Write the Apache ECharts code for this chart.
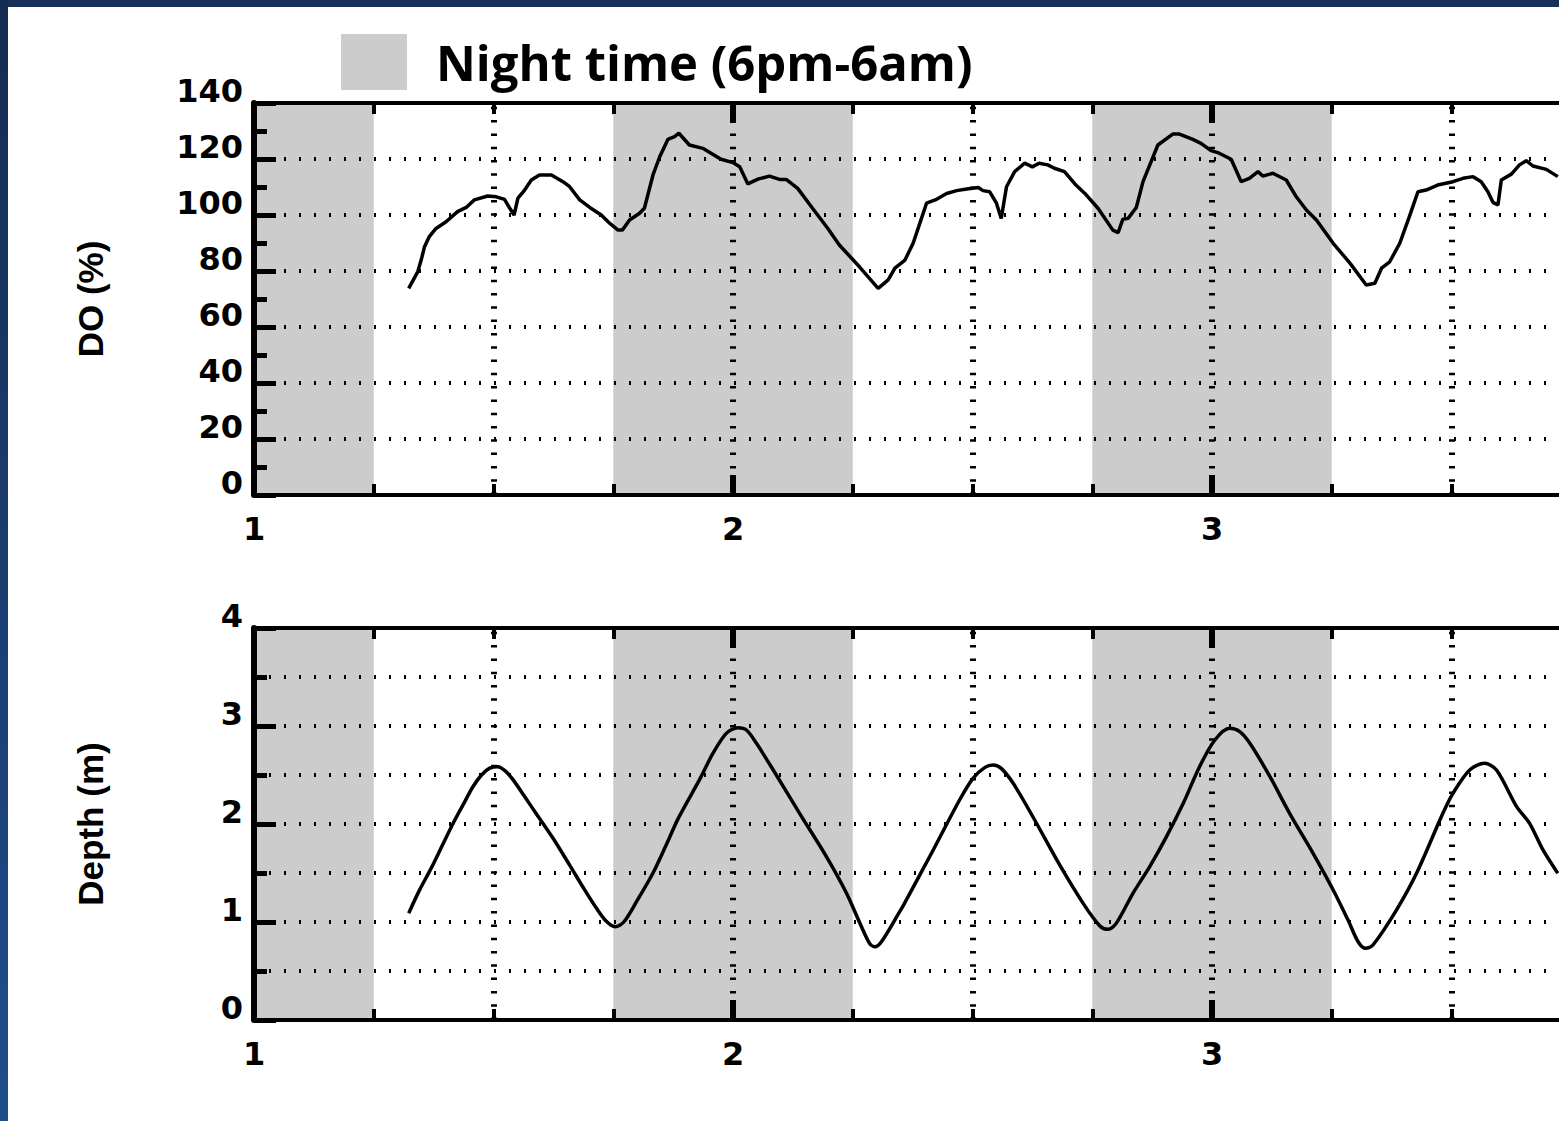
<!DOCTYPE html>
<html>
<head>
<meta charset="utf-8">
<script src="https://cdn.jsdelivr.net/npm/echarts@6/dist/echarts.min.js"></script>
<style>
html, body { margin: 0; padding: 0; background: #ffffff; }
#chart { width: 1559px; height: 1121px; }
</style>
</head>
<body>
<div id="chart"></div>
<script>
// ---- data ----
const doTime = [1.323,1.342,1.349,1.356,1.366,1.380,1.401,1.425,1.443,1.460,1.488,1.506,1.523,1.534,1.543,1.551,1.565,1.579,1.596,1.621,1.645,1.659,1.680,1.701,1.725,1.743,1.760,1.769,1.784,1.805,1.815,1.833,1.847,1.864,1.878,1.887,1.909,1.937,1.955,1.975,2.000,2.014,2.031,2.052,2.076,2.097,2.111,2.135,2.166,2.198,2.222,2.264,2.303,2.324,2.338,2.359,2.376,2.390,2.404,2.425,2.446,2.467,2.488,2.512,2.522,2.536,2.550,2.560,2.571,2.588,2.609,2.625,2.639,2.657,2.671,2.692,2.716,2.734,2.762,2.793,2.804,2.814,2.825,2.842,2.856,2.887,2.918,2.932,2.960,2.977,2.998,3.012,3.040,3.061,3.078,3.096,3.106,3.127,3.155,3.176,3.197,3.218,3.253,3.288,3.322,3.340,3.354,3.371,3.392,3.412,3.430,3.447,3.471,3.503,3.524,3.545,3.562,3.576,3.587,3.597,3.604,3.625,3.642,3.656,3.670,3.698,3.722];
const doValue = [73.8,79.8,83.9,88.7,92.3,95.2,97.6,101.2,102.7,105.4,106.8,106.5,105.6,102.4,100.0,106.0,108.9,112.5,114.3,114.3,111.9,110.1,105.4,102.7,100.0,97.0,94.6,94.6,98.2,100.6,102.4,114.3,120.8,127.0,128.0,129.2,125.0,123.8,122.0,119.9,118.7,117.2,111.1,112.8,113.9,112.7,112.7,109.5,102.4,95.2,89.3,81.5,73.8,76.8,81.0,83.9,89.9,97.0,104.2,105.6,107.7,108.7,109.3,109.8,108.7,108.3,104.2,98.8,110.1,115.5,118.5,117.2,118.5,117.9,116.7,115.5,110.7,107.8,102.4,94.6,93.7,98.5,98.8,102.7,111.9,125.0,128.9,128.9,127.0,125.6,123.0,122.3,119.9,111.9,113.1,115.5,113.9,114.9,112.5,106.5,101.8,98.2,89.9,82.8,75.0,75.6,81.0,83.3,89.9,99.4,108.3,108.9,110.7,111.9,113.1,113.7,111.9,108.3,104.4,103.6,112.5,114.6,117.9,119.4,117.5,116.3,113.7];

const depthTime = [1.323,1.345,1.370,1.393,1.415,1.437,1.457,1.475,1.492,1.509,1.525,1.541,1.565,1.590,1.625,1.659,1.690,1.715,1.735,1.754,1.772,1.800,1.833,1.860,1.886,1.931,1.958,1.986,2.010,2.028,2.049,2.084,2.139,2.195,2.237,2.265,2.285,2.296,2.310,2.348,2.358,2.418,2.473,2.501,2.526,2.543,2.560,2.585,2.626,2.682,2.731,2.766,2.783,2.800,2.835,2.870,2.905,2.940,2.974,3.006,3.037,3.058,3.079,3.121,3.162,3.211,3.253,3.284,3.305,3.321,3.336,3.385,3.427,3.482,3.503,3.538,3.569,3.594,3.636,3.663,3.691,3.722];
const depthValue = [1.09,1.32,1.55,1.78,2.00,2.20,2.38,2.50,2.57,2.585,2.54,2.45,2.28,2.10,1.85,1.58,1.33,1.14,1.01,0.952,1.00,1.22,1.50,1.78,2.06,2.46,2.72,2.925,2.983,2.959,2.823,2.551,2.109,1.667,1.293,0.987,0.782,0.748,0.799,1.105,1.19,1.735,2.245,2.466,2.578,2.602,2.568,2.415,2.074,1.582,1.19,0.959,0.925,0.986,1.293,1.565,1.871,2.211,2.585,2.857,2.976,2.942,2.823,2.483,2.109,1.701,1.327,1.020,0.799,0.731,0.765,1.122,1.497,2.109,2.313,2.551,2.619,2.551,2.177,2.007,1.735,1.497];

const nightStart = [1.00, 1.75, 2.75, 3.75];
const nightEnd   = [1.25, 2.25, 3.25, 4.00];
const halfDayGrid = [1.5, 2.0, 2.5, 3.0, 3.5];
const dayLabels = [1, 2, 3];          // day tick labels shown on the time axis
const dayStep = 1;
const timeMin = 1, timeMax = 4;       // time-axis extent (the figure is cut at ~3.72)
const doTicks = [0, 20, 40, 60, 80, 100, 120, 140];
const depthTicks = [0, 1, 2, 3, 4];
const legendName = 'Night time (6pm-6am)';
const doName = 'DO (%)';
const depthName = 'Depth (m)';

// ---- chart ----
const chart = echarts.init(document.getElementById('chart'), null, { renderer: 'svg' });

const pairs = (xs, ys) => xs.map((x, i) => [x, ys[i]]);
const LABEL_FONT = { fontFamily: 'DejaVu Sans', fontWeight: 'bold', fontSize: 32, color: '#000' };

function xAxisDef(gridIndex, position, showLabels) {
  return {
    type: 'value', gridIndex, position, z: 3,
    min: timeMin, max: timeMax, interval: dayStep,
    axisLine: { show: true, onZero: false, lineStyle: { color: '#000', width: 4 } },
    axisTick: { show: true, inside: true, length: 20, lineStyle: { color: '#000', width: 6 } },
    minorTick: { show: true, splitNumber: 4, length: 11, lineStyle: { color: '#000', width: 4 } },
    splitLine: { show: false },
    axisLabel: {
      show: showLabels, margin: 18, ...LABEL_FONT,
      formatter: v => dayLabels.includes(v) ? String(v) : ''
    }
  };
}

function yAxisDef(gridIndex, ticks, minorSplit, name) {
  return {
    type: 'value', gridIndex, z: 3,
    min: ticks[0], max: ticks[ticks.length - 1], interval: ticks[1] - ticks[0],
    name, nameLocation: 'middle', nameRotate: 90, nameGap: 146,
    nameTextStyle: { fontFamily: 'Liberation Sans', fontWeight: 'bold', fontSize: 35, color: '#000' },
    axisLine: { show: true, onZero: false, lineStyle: { color: '#000', width: 6 } },
    axisTick: { show: true, inside: true, length: 22, lineStyle: { color: '#000', width: 5 } },
    minorTick: { show: true, splitNumber: 2, length: 13, lineStyle: { color: '#000', width: 5 } },
    splitLine: { show: true, lineStyle: { color: '#000', width: 4, type: [2, 13] } },
    minorSplitLine: { show: minorSplit, lineStyle: { color: '#000', width: 4, type: [2, 13] } },
    axisLabel: { margin: 11, verticalAlign: 'bottom', lineHeight: 24, ...LABEL_FONT }
  };
}

function nightHelper(xi, yi) {
  return {
    name: legendName, type: 'line', xAxisIndex: xi, yAxisIndex: yi, data: [],
    color: '#cccccc', silent: true,
    markArea: {
      z: 1, silent: true,
      itemStyle: { color: '#cccccc', borderWidth: 0 },
      data: nightStart.map((s, i) => [{ xAxis: s }, { xAxis: nightEnd[i] }])
    },
    markLine: {
      z: 2, silent: true, symbol: ['none', 'none'], label: { show: false },
      lineStyle: { color: '#000', width: 6, type: [2.5, 10.8] },
      data: halfDayGrid.map(v => ({ xAxis: v }))
    }
  };
}

const option = {
  animation: false,
  backgroundColor: '#ffffff',
  graphic: [
    { type: 'rect', shape: { x: 0, y: 0, width: 1559, height: 7 }, style: { fill: '#16305a' }, z: 10 },
    { type: 'rect', shape: { x: 0, y: 0, width: 8, height: 1121 }, z: 10,
      style: { fill: new echarts.graphic.LinearGradient(0, 0, 0, 1, [
        { offset: 0, color: '#152c52' }, { offset: 1, color: '#1f4e8c' }]) } }
  ],
  legend: {
    data: [legendName], left: 341, top: 34, padding: 0, icon: 'rect',
    itemWidth: 66, itemHeight: 56, selectedMode: false,
    textStyle: { fontFamily: 'Open Sans', fontWeight: 'bold', fontSize: 49, color: '#000', padding: [0, 0, 0, 24] }
  },
  grid: [
    { left: 254, top: 103, width: 1437, height: 392, outerBoundsMode: 'none', containLabel: false },
    { left: 254, top: 628, width: 1437, height: 392, outerBoundsMode: 'none', containLabel: false }
  ],
  xAxis: [
    xAxisDef(0, 'bottom', true),
    xAxisDef(0, 'top', false),
    xAxisDef(1, 'bottom', true),
    xAxisDef(1, 'top', false)
  ],
  yAxis: [
    yAxisDef(0, doTicks, false, doName),
    yAxisDef(1, depthTicks, true, depthName)
  ],
  series: [
    nightHelper(0, 0),
    nightHelper(2, 1),
    {
      name: doName, type: 'line', xAxisIndex: 0, yAxisIndex: 0, z: 4,
      showSymbol: false, symbol: 'none', smooth: false,
      lineStyle: { color: '#000', width: 3.5 },
      data: pairs(doTime, doValue)
    },
    {
      name: depthName, type: 'line', xAxisIndex: 2, yAxisIndex: 1, z: 4,
      showSymbol: false, symbol: 'none', smooth: 0.3,
      lineStyle: { color: '#000', width: 3.5 },
      data: pairs(depthTime, depthValue)
    }
  ]
};
chart.setOption(option);
</script>
</body>
</html>
